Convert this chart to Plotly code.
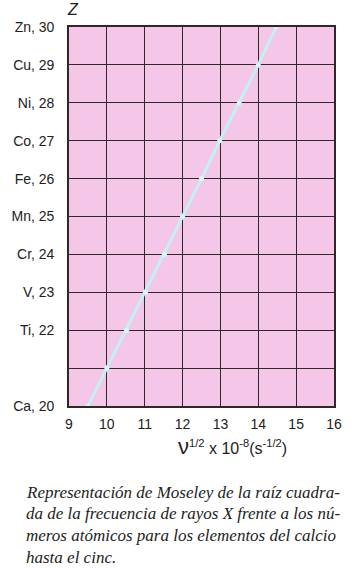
import plotly.graph_objects as go

# Data
atomic_number = [20, 21, 22, 23, 24, 25, 26, 27, 28, 29, 30]
sqrt_freq = [9.5, 10.0, 10.52, 11.02, 11.52, 12.0, 12.5, 12.98, 13.5, 14.0, 14.47]

y_tickvals = [20, 22, 23, 24, 25, 26, 27, 28, 29, 30]
y_ticktext = ["Ca, 20", "Ti, 22", "V, 23", "Cr, 24", "Mn, 25", "Fe, 26",
              "Co, 27", "Ni, 28", "Cu, 29", "Zn, 30"]
x_tickvals = [9, 10, 11, 12, 13, 14, 15, 16]

caption_lines = [
    "Representación de Moseley de la raíz cuadra-",
    "da de la frecuencia de rayos X frente a los nú-",
    "meros atómicos para los elementos del calcio",
    "hasta el cinc.",
]

W, H = 354, 568
ML, MR, MT, MB = 67, 16, 27, 162

fig = go.Figure()
fig.add_trace(go.Scatter(
    x=sqrt_freq, y=atomic_number, mode="lines+markers",
    line=dict(color="#c6eef4", width=3),
    marker=dict(color="#d6f6fa", size=5),
    hoverinfo="skip", showlegend=False,
))

grid_color = "#33262a"
fig.update_xaxes(
    range=[9, 16], tickvals=x_tickvals, showgrid=True, gridcolor=grid_color,
    gridwidth=1.4, zeroline=False, showline=True, linecolor=grid_color,
    linewidth=1.6, mirror=True, ticks="", ticklabelstandoff=4,
    tickfont=dict(family="Liberation Sans, Arial", size=14, color="#222"),
)
fig.update_yaxes(
    range=[20, 30], dtick=1, showgrid=True, gridcolor=grid_color, gridwidth=1.4,
    zeroline=False, showline=True, linecolor=grid_color, linewidth=1.6,
    mirror=True, ticks="", tickvals=y_tickvals, ticktext=y_ticktext,
    ticklabelstandoff=10,
    tickfont=dict(family="Liberation Sans, Arial", size=14, color="#222"),
)
fig.update_yaxes(minor=dict(dtick=1, showgrid=True, gridcolor=grid_color,
                            gridwidth=1.4, tick0=20))

annotations = [
    dict(text="<i>Z</i>", x=71 / W, y=1 - 10 / H, xref="paper", yref="paper",
         showarrow=False, xanchor="center", yanchor="middle",
         font=dict(family="Liberation Sans, Arial", size=16, color="#222")),
    dict(text="<span style='font-size:22px'>ν</span><sup>1/2</sup> x 10<sup>-8</sup>(s<sup>-1/2</sup>)",
         x=234 / W, y=1 - 446 / H, xref="paper", yref="paper",
         showarrow=False, xanchor="center", yanchor="middle",
         font=dict(family="Liberation Sans, Arial", size=16, color="#222")),
]
for i, line in enumerate(caption_lines):
    annotations.append(dict(
        text="<i>" + line + "</i>", x=21 / W, y=1 - (492 + i * 21.7) / H,
        xref="paper", yref="paper", showarrow=False,
        xanchor="left", yanchor="middle",
        font=dict(family="Liberation Serif, Times New Roman", size=17, color="#222"),
    ))

fig.update_layout(
    width=W, height=H,
    margin=dict(l=ML, r=MR, t=MT, b=MB),
    paper_bgcolor="white", plot_bgcolor="#f4c6e8",
    annotations=annotations,
)
plot_h = H - MT - MB
for a in fig.layout.annotations:
    ypix = (1 - a.y) * H
    a.y = 1 - (ypix - MT) / plot_h
    xpix = a.x * W
    a.x = (xpix - ML) / (W - ML - MR)

fig.write_html("out.html")
